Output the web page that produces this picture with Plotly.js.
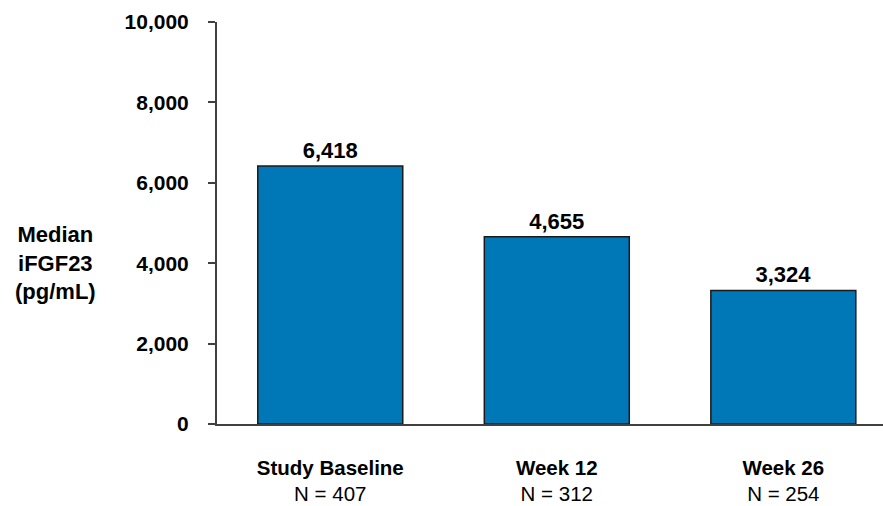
<!DOCTYPE html>
<html>
<head>
<meta charset="utf-8">
<script src="https://cdn.plot.ly/plotly-3.0.1.min.js"></script>
<style>html,body{margin:0;padding:0;background:#fff;}#chart{width:883px;height:506px;}</style>
</head>
<body>
<div id="chart"></div>
<script>
var categories = ["Study Baseline", "Week 12", "Week 26"];
var nValues = [407, 312, 254];
var medianValues = [6418, 4655, 3324];
var yTickValues = [0, 2000, 4000, 6000, 8000, 10000];
var yTickLabels = ["0", "2,000", "4,000", "6,000", "8,000", "10,000"];
var yTitleLines = ["Median", "iFGF23", "(pg/mL)"];

var tickText = categories.map(function (c, i) {
  return "<b>" + c + "</b><br>N = " + nValues[i];
});

var FONT = "Liberation Sans, Arial, sans-serif";

var trace = {
  type: "bar",
  x: categories,
  y: medianValues,
  marker: { color: "#0078B7", line: { color: "#1a1a1a", width: 1.5 } },
  texttemplate: "<b>%{y:,}</b>",
  textposition: "outside",
  cliponaxis: false,
  textfont: { family: FONT, size: 22, color: "#000" },
  hoverinfo: "none"
};

var layout = {
  width: 883,
  height: 506,
  margin: { l: 217, r: 0, t: 22, b: 82 },
  paper_bgcolor: "#fff",
  plot_bgcolor: "#fff",
  showlegend: false,
  bargap: 0.36,
  font: { family: FONT, color: "#000" },
  xaxis: {
    type: "category",
    range: [-0.5, 2.44],
    tickmode: "array",
    tickvals: categories,
    ticktext: tickText,
    ticks: "",
    showline: true,
    linecolor: "#404040",
    linewidth: 2,
    showgrid: false,
    zeroline: false,
    tickfont: { family: FONT, size: 20.5, color: "#000" },
    ticklabelstandoff: 24
  },
  yaxis: {
    range: [0, 10000],
    tickmode: "array",
    tickvals: yTickValues,
    ticktext: yTickLabels.map(function (t) { return "<b>" + t + "</b>"; }),
    ticks: "outside",
    ticklen: 7,
    tickwidth: 2,
    tickcolor: "#404040",
    showline: true,
    linecolor: "#404040",
    linewidth: 2,
    showgrid: false,
    zeroline: false,
    tickfont: { family: FONT, size: 21, color: "#000" },
    ticklabelstandoff: 15
  },
  annotations: [{
    xref: "paper", yref: "paper",
    x: -0.242, y: 0.40,
    xanchor: "center", yanchor: "middle",
    showarrow: false,
    align: "center",
    text: "<b>" + yTitleLines.join("<br>") + "</b>",
    font: { family: FONT, size: 22, color: "#000" }
  }]
};

Plotly.newPlot("chart", [trace], layout, { staticPlot: true, displayModeBar: false });
</script>
</body>
</html>
